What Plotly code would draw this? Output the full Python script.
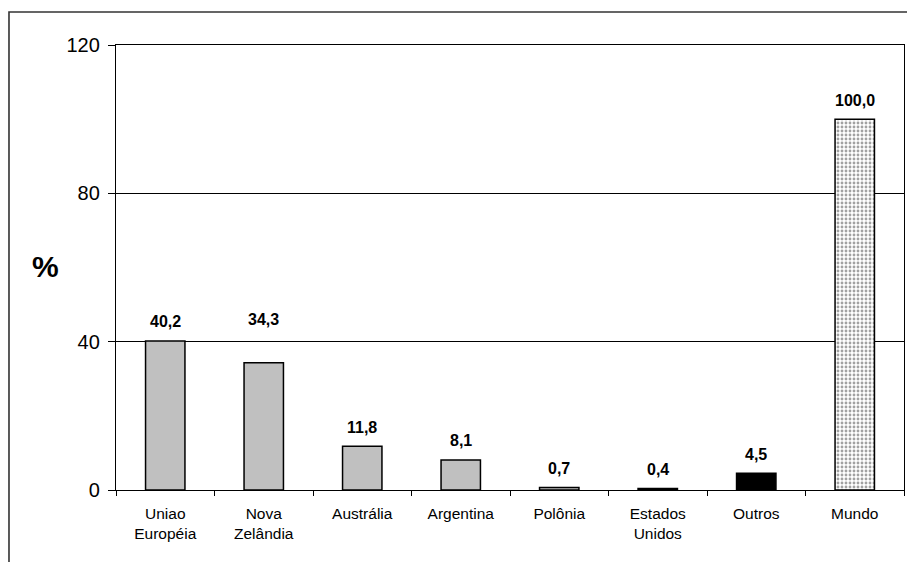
import plotly.graph_objects as go

# Share of world exports (%) by origin
categories = ["Uniao<br>Européia", "Nova<br>Zelândia", "Austrália", "Argentina",
              "Polônia", "Estados<br>Unidos", "Outros", "Mundo"]
values = [40.2, 34.3, 11.8, 8.1, 0.7, 0.4, 4.5, 100.0]
value_labels = ["40,2", "34,3", "11,8", "8,1", "0,7", "0,4", "4,5", "100,0"]
y_ticks = [0, 40, 80, 120]

FONT = "Liberation Sans, Arial, sans-serif"

fill_colors = ["#C0C0C0"] * 6 + ["#000000", "#FFFFFF"]
pattern_shapes = [""] * 7 + ["."]

fig = go.Figure()
fig.add_trace(go.Bar(
    x=categories,
    y=values,
    marker=dict(
        color=fill_colors,
        line=dict(color="#000000", width=1.5),
        pattern=dict(shape=pattern_shapes, fgcolor="#333333", bgcolor="#F2F2F2",
                     size=4, solidity=0.4),
    ),
    hoverinfo="skip",
))

# value labels above the bars (the 34,3 label sits higher than the others)
label_shift = [19, 43, 19, 19, 19, 19, 19, 19]
for cat, val, txt, dy in zip(categories, values, value_labels, label_shift):
    fig.add_annotation(
        x=cat, y=val, text=f"<b>{txt}</b>", showarrow=False,
        yanchor="middle", yshift=dy,
        font=dict(family=FONT, size=16, color="#000000"),
    )

# "%" axis label
fig.add_annotation(
    xref="paper", yref="paper", x=-0.090, y=0.502, text="<b>%</b>",
    showarrow=False, xanchor="center", yanchor="middle",
    font=dict(family=FONT, size=30, color="#000000"),
)

# outer chart frame (runs off the right and bottom edges)
fig.add_shape(
    type="rect", xref="paper", yref="paper",
    x0=-0.1358, x1=1.2, y0=-0.5, y1=1.0742,
    line=dict(color="#333333", width=1.6), fillcolor="rgba(0,0,0,0)",
)

fig.update_layout(
    width=907, height=562,
    margin=dict(l=116, r=3, t=45, b=72),
    paper_bgcolor="white", plot_bgcolor="white",
    bargap=0.6, showlegend=False,
    font=dict(family=FONT, color="#000000"),
)

fig.update_xaxes(
    type="category", tickson="boundaries",
    ticks="outside", ticklen=5, tickwidth=1, tickcolor="#000000",
    showline=True, linecolor="#000000", linewidth=1.3, mirror=True,
    showgrid=False, ticklabelstandoff=9,
    tickfont=dict(family=FONT, size=15.5, color="#000000"),
)
fig.update_yaxes(
    range=[0, 120], tickvals=y_ticks, ticktext=[str(t) for t in y_ticks],
    ticks="outside", ticklen=7, tickwidth=1, tickcolor="#000000",
    showline=True, linecolor="#000000", linewidth=1.3, mirror=True,
    showgrid=True, gridcolor="#000000", gridwidth=0.8, zeroline=False,
    ticklabelstandoff=4,
    tickfont=dict(family=FONT, size=20, color="#000000"),
)

fig.write_html("out.html")
